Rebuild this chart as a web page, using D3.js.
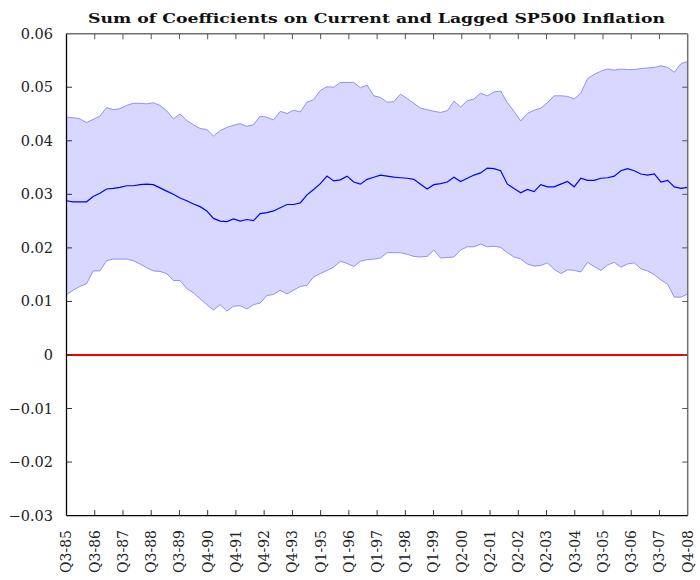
<!DOCTYPE html>
<html><head><meta charset="utf-8">
<script src="https://cdn.jsdelivr.net/npm/d3@7"></script>
<style>html,body{margin:0;padding:0;background:#fff;}svg{display:block;}</style>
</head><body>
<svg id="chart" width="700" height="580"></svg>
<script>
const title = "Sum of Coefficients on Current and Lagged SP500 Inflation";
const tickLabels = ["Q3-85","Q3-86","Q3-87","Q3-88","Q3-89","Q4-90","Q4-91","Q4-92","Q4-93","Q1-95","Q1-96","Q1-97","Q1-98","Q1-99","Q2-00","Q2-01","Q2-02","Q2-03","Q3-04","Q3-05","Q3-06","Q3-07","Q4-08"];
const yTicks = [-0.03,-0.02,-0.01,0,0.01,0.02,0.03,0.04,0.05,0.06];
const upper = [0.0444,0.0443,0.0441,0.0434,0.0440,0.0446,0.0462,0.0458,0.0460,0.0466,
0.0470,0.0470,0.0469,0.0471,0.0466,0.0456,0.0441,0.0450,0.0438,0.0430,
0.0423,0.0421,0.0409,0.0419,0.0425,0.0429,0.0432,0.0427,0.0430,0.0446,
0.0444,0.0439,0.0455,0.0451,0.0457,0.0454,0.0472,0.0477,0.0494,0.0501,
0.0500,0.0509,0.0509,0.0509,0.0499,0.0504,0.0484,0.0481,0.0472,0.0473,
0.0487,0.0479,0.0470,0.0461,0.0458,0.0455,0.0453,0.0456,0.0474,0.0463,
0.0475,0.0478,0.0489,0.0484,0.0491,0.0493,0.0471,0.0455,0.0437,0.0451,
0.0457,0.0461,0.0471,0.0484,0.0484,0.0483,0.0478,0.0489,0.0516,0.0524,
0.0530,0.0534,0.0532,0.0534,0.0533,0.0533,0.0535,0.0536,0.0537,0.0540,
0.0537,0.0528,0.0544,0.0548];
const mid = [0.0288,0.0286,0.0286,0.0286,0.0296,0.0302,0.0310,0.0311,0.0313,0.0316,
0.0316,0.0318,0.0319,0.0318,0.0312,0.0306,0.0300,0.0293,0.0288,0.0282,
0.0277,0.0269,0.0255,0.0250,0.0249,0.0254,0.0250,0.0253,0.0251,0.0264,
0.0266,0.0269,0.0275,0.0281,0.0281,0.0284,0.0299,0.0309,0.0320,0.0334,
0.0325,0.0327,0.0334,0.0323,0.0319,0.0328,0.0332,0.0336,0.0334,0.0332,
0.0331,0.0330,0.0328,0.0319,0.0310,0.0318,0.0320,0.0323,0.0332,0.0324,
0.0330,0.0336,0.0340,0.0349,0.0348,0.0344,0.0319,0.0311,0.0303,0.0309,
0.0305,0.0318,0.0314,0.0314,0.0319,0.0324,0.0314,0.0330,0.0326,0.0326,
0.0330,0.0331,0.0334,0.0344,0.0348,0.0344,0.0338,0.0336,0.0338,0.0323,
0.0326,0.0314,0.0311,0.0313];
const lower = [0.0113,0.0121,0.0128,0.0133,0.0157,0.0157,0.0176,0.0179,0.0179,0.0179,
0.0176,0.0170,0.0163,0.0157,0.0156,0.0152,0.0139,0.0139,0.0124,0.0116,
0.0105,0.0094,0.0084,0.0094,0.0082,0.0091,0.0092,0.0086,0.0094,0.0097,
0.0111,0.0113,0.0121,0.0114,0.0121,0.0128,0.0130,0.0146,0.0152,0.0158,
0.0164,0.0175,0.0171,0.0165,0.0175,0.0178,0.0179,0.0181,0.0191,0.0191,
0.0191,0.0188,0.0184,0.0183,0.0184,0.0196,0.0181,0.0182,0.0183,0.0196,
0.0202,0.0202,0.0207,0.0202,0.0203,0.0201,0.0191,0.0183,0.0179,0.0170,
0.0166,0.0167,0.0172,0.0160,0.0152,0.0159,0.0158,0.0155,0.0173,0.0165,
0.0158,0.0168,0.0173,0.0164,0.0170,0.0172,0.0161,0.0157,0.0150,0.0140,
0.0132,0.0108,0.0108,0.0114];

const L = 66.5, R = 687.7, T = 33.7, B = 515.6;
const svg = d3.select("#chart");
const n = mid.length;
const x = d3.scaleLinear().domain([0, n - 1]).range([L, R]);
const y = d3.scaleLinear().domain([-0.03, 0.06]).range([B, T]);
const font = "'DejaVu Serif', 'Liberation Serif', serif";
const idx = d3.range(n);

// band
svg.append("path")
  .datum(idx)
  .attr("fill", "#d7d7ff")
  .attr("stroke", "none")
  .attr("d", d3.area().x(i => x(i)).y0(i => y(lower[i])).y1(i => y(upper[i])));
[upper, lower].forEach(arr => {
  svg.append("path").datum(idx)
    .attr("fill", "none").attr("stroke", "#8f8fff").attr("stroke-width", 1)
    .attr("d", d3.line().x(i => x(i)).y(i => y(arr[i])));
});
svg.append("path").datum(idx)
  .attr("fill", "none").attr("stroke", "#0000ff").attr("stroke-width", 1.2)
  .attr("d", d3.line().x(i => x(i)).y(i => y(mid[i])));

// zero line
svg.append("line").attr("x1", L).attr("x2", R).attr("y1", y(0)).attr("y2", y(0))
  .attr("stroke", "#ff0000").attr("stroke-width", 2);

// frame
svg.append("line").attr("x1", L).attr("x2", R).attr("y1", T).attr("y2", T).attr("stroke", "#707070").attr("stroke-width", 1.5);
svg.append("line").attr("x1", R).attr("x2", R).attr("y1", T).attr("y2", B).attr("stroke", "#707070").attr("stroke-width", 1.5);
svg.append("line").attr("x1", L).attr("x2", L).attr("y1", T).attr("y2", B).attr("stroke", "#000").attr("stroke-width", 1.3);
svg.append("line").attr("x1", L).attr("x2", R).attr("y1", B).attr("y2", B).attr("stroke", "#000").attr("stroke-width", 1.3);

// y ticks
const tl = 5.5;
yTicks.forEach(v => {
  if (v > -0.03 && v < 0.06) {
    svg.append("line").attr("x1", L).attr("x2", L + tl).attr("y1", y(v)).attr("y2", y(v)).attr("stroke", "#333").attr("stroke-width", 1);
    svg.append("line").attr("x1", R - tl).attr("x2", R).attr("y1", y(v)).attr("y2", y(v)).attr("stroke", "#555").attr("stroke-width", 1);
  }
  svg.append("text").attr("x", 53).attr("y", y(v)).attr("dy", "0.35em")
    .attr("text-anchor", "end").attr("font-family", font).attr("font-size", 14.5).attr("fill", "#222")
    .text(v === 0 ? "0" : d3.format(".2f")(v));
});

// x ticks
const step = (n - 1) / (tickLabels.length - 1);
tickLabels.forEach((lab, k) => {
  const px = x(k * step);
  if (k > 0 && k < tickLabels.length - 1) {
    svg.append("line").attr("x1", px).attr("x2", px).attr("y1", B).attr("y2", B - tl).attr("stroke", "#333").attr("stroke-width", 1);
    svg.append("line").attr("x1", px).attr("x2", px).attr("y1", T).attr("y2", T + tl).attr("stroke", "#555").attr("stroke-width", 1);
  }
  svg.append("text")
    .attr("transform", `translate(${px},530) rotate(-90)`)
    .attr("dy", "0.35em")
    .attr("text-anchor", "end").attr("font-family", font).attr("font-size", 14).attr("fill", "#222")
    .text(lab);
});

// title
svg.append("text").attr("x", 376.5).attr("y", 23).attr("text-anchor", "middle")
  .attr("font-family", font).attr("font-weight", "bold").attr("font-size", 13.5).attr("fill", "#111")
  .attr("textLength", 577).attr("lengthAdjust", "spacingAndGlyphs")
  .text(title);
</script>
</body></html>
